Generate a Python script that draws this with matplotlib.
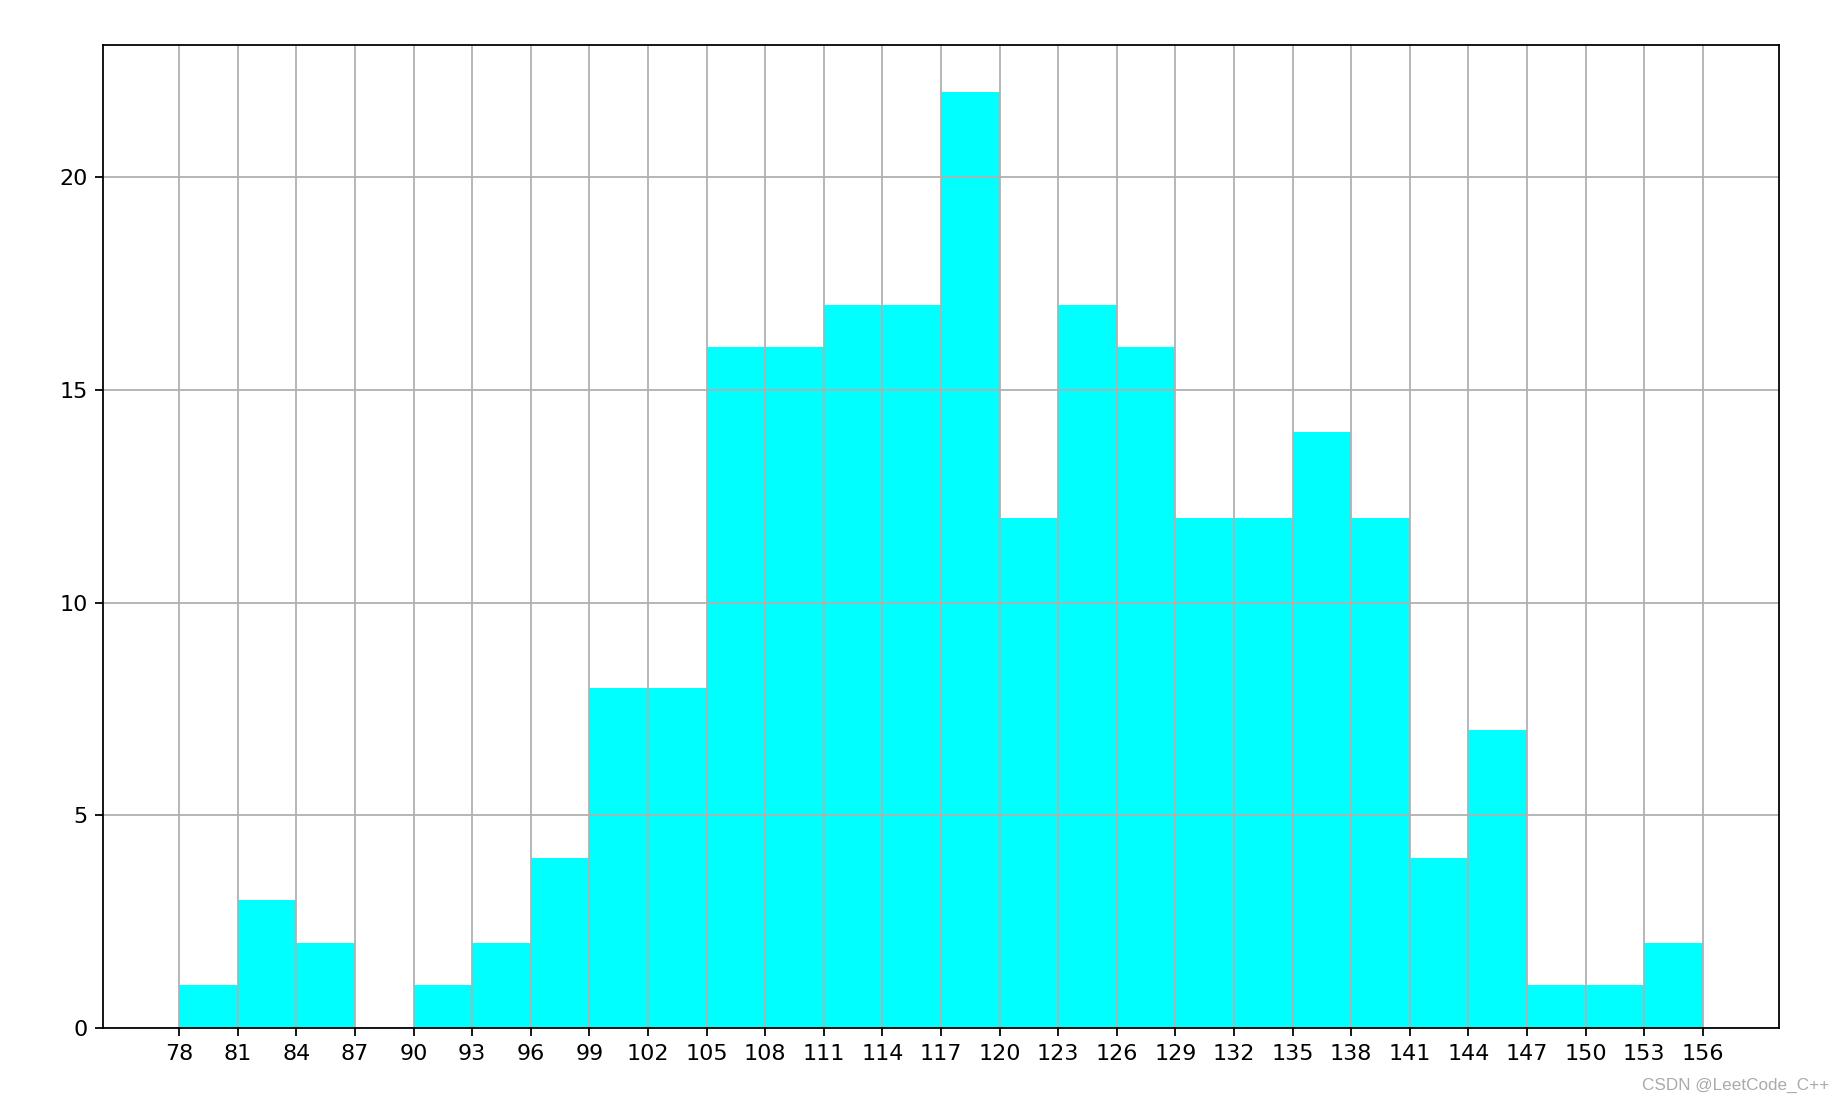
import matplotlib
matplotlib.use('Agg')
import matplotlib.pyplot as plt
import numpy as np

# histogram bins (edges) and counts
bin_start = 78
bin_step = 3
counts = [1, 3, 2, 0, 1, 2, 4, 8, 8, 16, 16, 17, 17, 22,
          12, 17, 16, 12, 12, 14, 12, 4, 7, 1, 1, 2]
edges = np.arange(bin_start, bin_start + bin_step * (len(counts) + 1), bin_step)

dpi = 160
fig, ax = plt.subplots(figsize=(1844 / dpi, 1106 / dpi), dpi=dpi)
fig.subplots_adjust(left=0.0559, right=0.9647, top=0.959, bottom=0.0705)

ax.hist(edges[:-1], bins=edges, weights=counts, color='cyan')
ax.set_xticks(edges)
ax.grid(True)

fig.text(0.992, 0.012, 'CSDN @LeetCode_C++', ha='right', va='bottom',
         color='#aaaaaa', fontsize=7.7, family='Liberation Sans')

plt.savefig('out.png', dpi=dpi)
